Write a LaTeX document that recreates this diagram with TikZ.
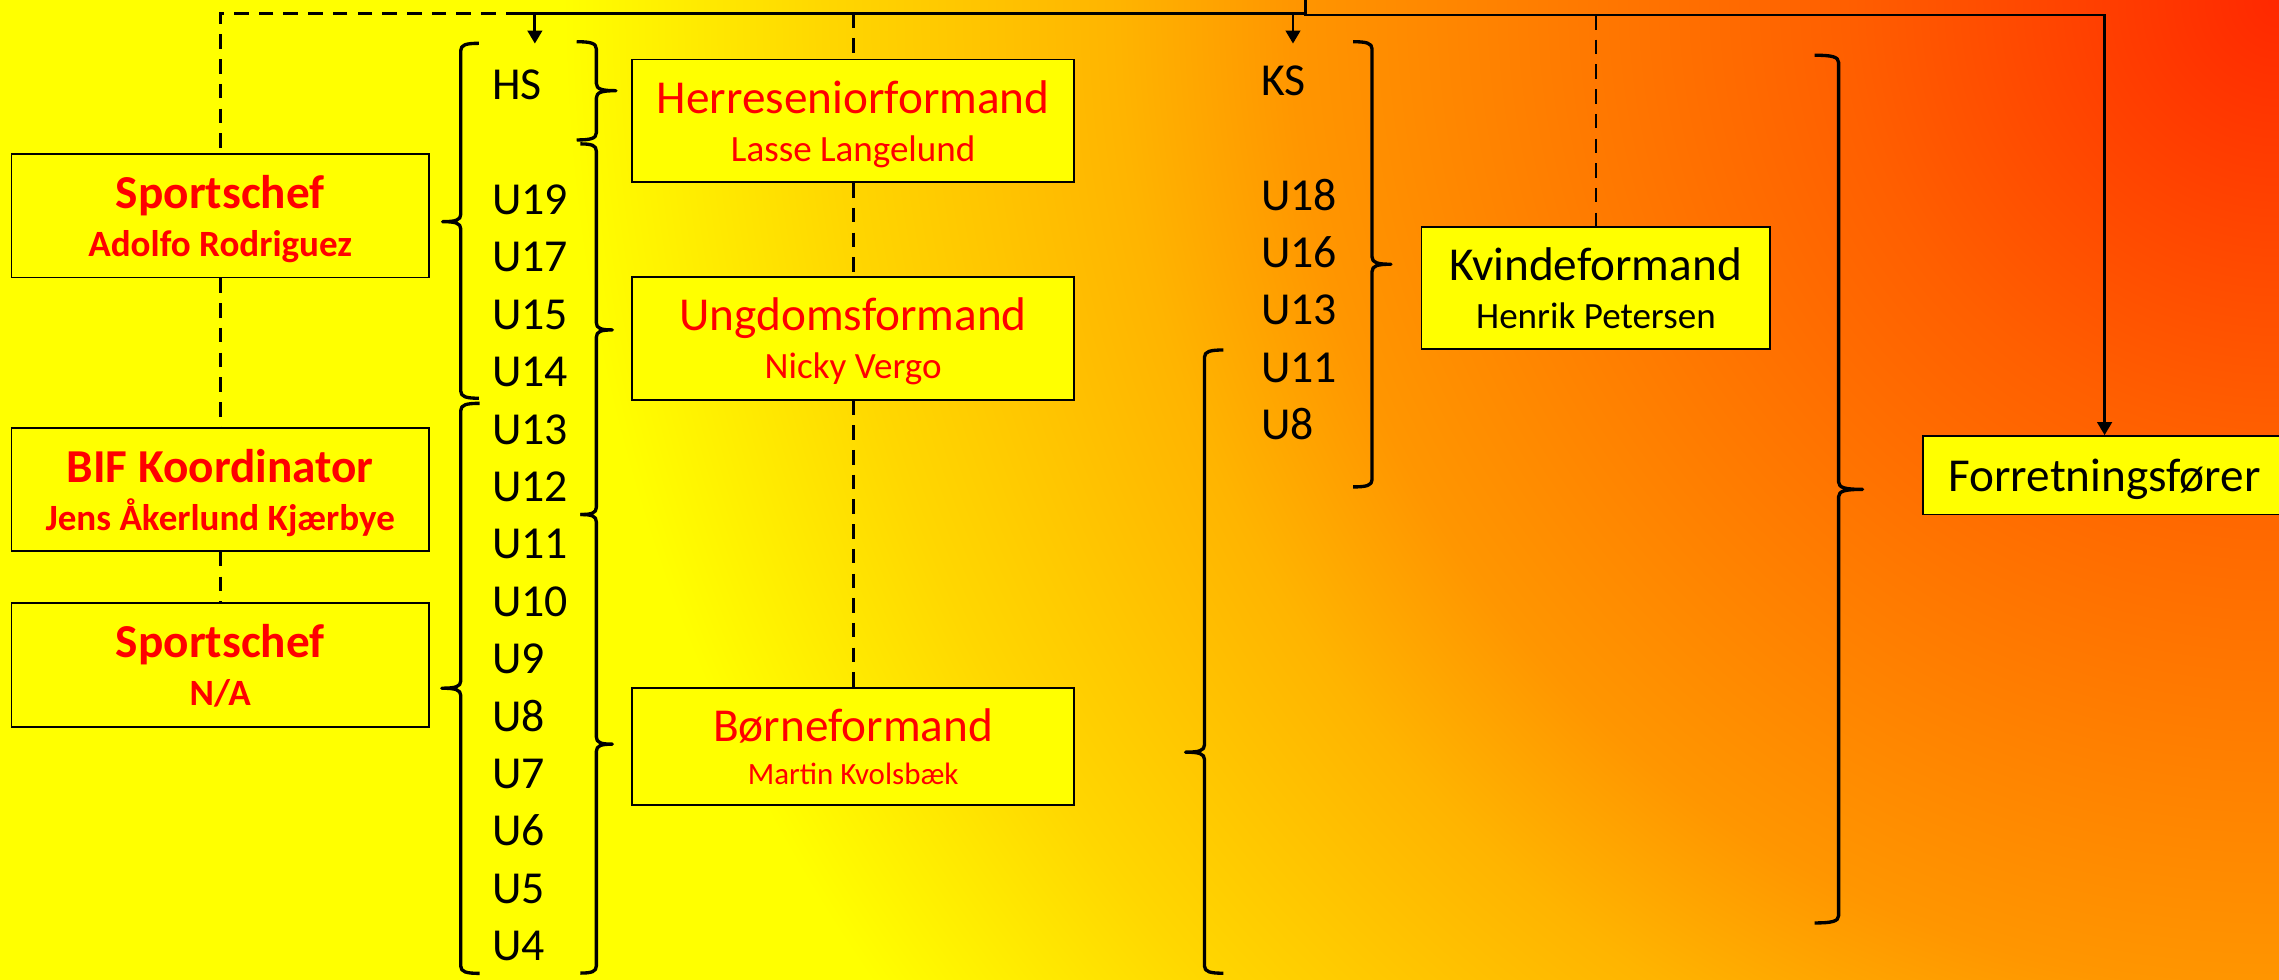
\documentclass[tikz,border=0pt]{standalone}
\usepackage{fontspec}
\setmainfont{Carlito}
\usetikzlibrary{arrows.meta}

\definecolor{boxyellow}{RGB}{255,255,0}
\definecolor{rolered}{RGB}{255,0,0}
\definecolor{glowA}{RGB}{255,40,0}
\definecolor{glowB}{RGB}{255,95,0}
\definecolor{glowC}{RGB}{255,150,0}
\definecolor{glowD}{RGB}{255,180,0}
\definecolor{glowE}{RGB}{255,215,0}

\pgfdeclareradialshading{cornerglow}{\pgfpointorigin}{%
  color(0bp)=(glowA); color(4.15bp)=(glowB); color(9.45bp)=(glowC);
  color(11.1bp)=(glowD); color(13.9bp)=(glowE); color(16.4bp)=(boxyellow);
  color(50bp)=(boxyellow)}

\newcommand{\titlesize}{\fontsize{32.5}{39}\selectfont}
\newcommand{\namesize}{\fontsize{25.5}{33}\selectfont}
\newcommand{\smallnamesize}{\fontsize{21.3}{29}\selectfont}
\newcommand{\agesize}{\fontsize{31.5}{38}\selectfont}

% group bracket: x of stem, top y, bottom y, tip y, tip length (+ right, - left)
\newcommand{\groupbrace}[5]{%
  \draw[bracket] ({#1-(#5)},#2) .. controls ({#1-0.3*(#5)},#2) and (#1,{#2+1}) .. (#1,{#2+5})
    -- (#1,{#4-5}) .. controls (#1,{#4-1}) and ({#1+0.3*(#5)},#4) .. ({#1+(#5)},#4)
    .. controls ({#1+0.3*(#5)},#4) and (#1,{#4+1}) .. (#1,{#4+5})
    -- (#1,{#3-5}) .. controls (#1,{#3-1}) and ({#1-0.3*(#5)},#3) .. ({#1-(#5)},#3);%
}

\begin{document}
\begin{tikzpicture}[x=1pt, y=-1pt,
    box/.style={draw=black, line width=1.2pt, fill=boxyellow, inner sep=0pt, align=center},
    conn/.style={line width=1.9pt},
    dashconn/.style={line width=1.9pt, dash pattern=on 10pt off 7pt},
    arr/.style={-{Triangle[length=9pt,width=10pt]}},
    bracket/.style={line width=2.3pt, line join=round},
    age/.style={anchor=base west, inner sep=0pt, font=\agesize}]

  % --- background, glowing from the top right corner ---
  \useasboundingbox (0,0) rectangle (1568,674);
  \begin{scope}
    \clip (0,0) rectangle (1568,674);
    \shade[shading=cornerglow] (1568,0) circle (1800pt);
  \end{scope}

  % --- sports side (left) ---
  \node[box, minimum width=287pt, minimum height=85pt, text=rolered, font=\namesize\bfseries] (chefa) at (151.5,148.5)
    {{\titlesize Sportschef}\\\smash{Adolfo Rodriguez}};
  \node[box, minimum width=287pt, minimum height=84.5pt, text=rolered, font=\namesize\bfseries] (bif) at (151.5,336.8)
    {{\titlesize BIF Koordinator}\\\smash{Jens Åkerlund Kjærbye}};
  \node[box, minimum width=287pt, minimum height=85pt, text=rolered, font=\namesize\bfseries] (chefb) at (151.5,457.5)
    {{\titlesize Sportschef}\\\smash{N/A}};

  % --- chairmen (middle) ---
  \node[box, minimum width=304pt, minimum height=84.5pt, text=rolered, font=\namesize] (herre) at (587,83.2)
    {{\titlesize Herreseniorformand}\\\smash{Lasse Langelund}};
  \node[box, minimum width=304pt, minimum height=84.2pt, text=rolered, font=\namesize] (ungdom) at (587,232.9)
    {{\titlesize Ungdomsformand}\\\smash{Nicky Vergo}};
  \node[box, minimum width=304pt, minimum height=80.5pt, text=rolered, font=\smallnamesize] (borne) at (587,513.7)
    {{\titlesize Børneformand}\\\smash{Martin Kvolsbæk}};

  % --- women and business manager (right) ---
  \node[box, minimum width=240pt, minimum height=84pt, font=\namesize] (kvinde) at (1098,198)
    {{\titlesize Kvindeformand}\\\smash{Henrik Petersen}};
  \node[box, minimum width=250pt, minimum height=54pt, font=\titlesize, text depth=0pt] (forr) at (1448,327)
    {Forretningsfører};

  % --- age groups ---
  \node[age] (hs) at (338.5,68.3) {HS};
  \foreach \lab [count=\i from 0] in {U19,U17,U15,U14,U13,U12,U11,U10,U9,U8,U7,U6,U5,U4}
    \node[age] (h\lab) at (338.5,{147.5+39.5*\i}) {\lab};
  \node[age] (ks) at (867.4,65.4) {KS};
  \foreach \lab [count=\i from 0] in {U18,U16,U13,U11,U8}
    \node[age] (k\lab) at (867.4,{144.5+39.5*\i}) {\lab};

  % --- brackets round the age groups ---
  \groupbrace{317}{29.8}{274}{152.5}{-12.5}
  \groupbrace{317}{277.5}{669.7}{473.5}{-13}
  \groupbrace{410.3}{28.7}{96.3}{62.4}{13.5}
  \groupbrace{410.3}{99}{354}{227}{11}
  \groupbrace{410.3}{354}{669.5}{512}{11}
  \groupbrace{944}{28.7}{335}{181.8}{13}
  \groupbrace{828.7}{240.8}{669.6}{517.5}{-13}
  \groupbrace{1265}{38}{635}{336.7}{16.5}

  % --- top lines ---
  \coordinate (root) at (898,0);
  \coordinate (rootknee) at (898,10.3);
  \coordinate (leftend) at (898,9.2);
  \coordinate (dashstart) at (358,9.2);
  \coordinate (hsdrop) at (368,9.2);
  \coordinate (hsin) at (368,30);
  \coordinate (ksdrop) at (889.6,9.2);
  \coordinate (ksin) at (889.6,30);

  \draw[conn] (leftend) -- (dashstart);
  \draw[conn, arr] (root) -- (rootknee) -| (forr.north);
  \draw[conn, arr] (hsdrop) -- (hsin);
  \draw[conn, arr] (ksdrop) -- (ksin);
  \draw[dashconn] (dashstart) -| (chefa.north);
  \draw[dashconn] (herre.north |- dashstart) -- (herre.north);
  \draw[dashconn] (kvinde.north |- rootknee) -- (kvinde.north);

  % --- dashed chains between boxes ---
  \draw[dashconn] (chefa) -- (bif);
  \draw[dashconn] (bif) -- (chefb);
  \draw[dashconn] (herre) -- (ungdom);
  \draw[dashconn] (ungdom) -- (borne);

\end{tikzpicture}
\end{document}
